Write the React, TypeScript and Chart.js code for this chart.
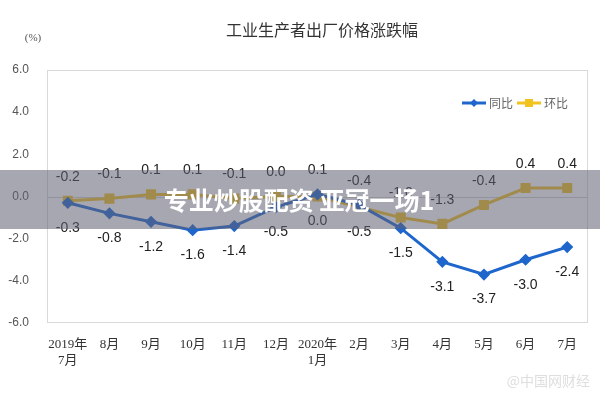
import React, { useEffect, useRef } from "react";
import { Chart, registerables } from "chart.js";

Chart.register(...registerables);

const title = "工业生产者出厂价格涨跌幅";
const unitLabel = "(%)";
const categories: (string | string[])[] = [
  ["2019年", "7月"], "8月", "9月", "10月", "11月", "12月",
  ["2020年", "1月"], "2月", "3月", "4月", "5月", "6月", "7月",
];
const yoyName = "同比";
const momName = "环比";
const yoyValues = [-0.3, -0.8, -1.2, -1.6, -1.4, -0.5, 0.1, -0.4, -1.5, -3.1, -3.7, -3.0, -2.4];
const momValues = [-0.2, -0.1, 0.1, 0.1, -0.1, 0.0, 0.0, -0.5, -1.0, -1.3, -0.4, 0.4, 0.4];
const yTicks = [-6, -4, -2, 0, 2, 4, 6];
const bandText = "专业炒股配资 亚冠一场1";
const sourceText = "@中国网财经";

const BLUE = "#1E66CC";
const GOLD = "#F2C21E";
const CJK = '"Noto Sans CJK SC", "Liberation Sans", sans-serif';
const SERIF = '"Liberation Serif", "Noto Sans CJK SC", serif';

const decorPlugin = {
  id: "decor",
  beforeDatasetsDraw(chart: any) {
    const { ctx, chartArea: a, scales } = chart;
    ctx.save();
    ctx.strokeStyle = "#d9d9d9";
    ctx.lineWidth = 1;
    ctx.strokeRect(a.left + 0.5, a.top + 0.5, a.right - a.left - 1, a.bottom - a.top - 1);
    const y0 = Math.round(scales.y.getPixelForValue(0)) + 0.5;
    ctx.beginPath();
    ctx.moveTo(a.left, y0);
    ctx.lineTo(a.right, y0);
    ctx.strokeStyle = "#d0d0d0";
    ctx.stroke();
    ctx.restore();
  },
  afterDraw(chart: any) {
    const { ctx, scales } = chart;
    ctx.save();
    ctx.fillStyle = "#333";
    ctx.font = `16px ${CJK}`;
    ctx.textAlign = "center";
    ctx.textBaseline = "middle";
    ctx.fillText(title, 322, 30);
    ctx.font = `11px ${SERIF}`;
    ctx.fillStyle = "#555";
    ctx.fillText(unitLabel, 33, 38);

    ctx.font = `14px "Liberation Sans", sans-serif`;
    ctx.fillStyle = "#222";
    for (let i = 0; i < categories.length; i++) {
      const x = scales.x.getPixelForValue(i);
      const hiVal = Math.max(yoyValues[i], momValues[i]);
      const loVal = Math.min(yoyValues[i], momValues[i]);
      ctx.fillText(hiVal.toFixed(1), x, scales.y.getPixelForValue(hiVal) - 24);
      ctx.fillText(loVal.toFixed(1), x, scales.y.getPixelForValue(loVal) + 25);
    }

    const ly = 103;
    const items = [
      { name: yoyName, color: BLUE, x: 462, shape: "diamond" },
      { name: momName, color: GOLD, x: 517, shape: "square" },
    ];
    ctx.font = `12px ${CJK}`;
    ctx.textAlign = "left";
    for (const it of items) {
      ctx.strokeStyle = it.color;
      ctx.lineWidth = 3;
      ctx.beginPath();
      ctx.moveTo(it.x, ly);
      ctx.lineTo(it.x + 24, ly);
      ctx.stroke();
      ctx.fillStyle = it.color;
      ctx.beginPath();
      if (it.shape === "diamond") {
        ctx.moveTo(it.x + 12, ly - 4);
        ctx.lineTo(it.x + 16, ly);
        ctx.lineTo(it.x + 12, ly + 4);
        ctx.lineTo(it.x + 8, ly);
      } else {
        ctx.rect(it.x + 8, ly - 4, 8, 8);
      }
      ctx.fill();
      ctx.fillStyle = "#666";
      ctx.fillText(it.name, it.x + 27, ly);
    }

    ctx.fillStyle = "rgba(95,95,115,0.55)";
    ctx.fillRect(0, 170, 600, 59);
    ctx.fillStyle = "#ffffff";
    ctx.font = `bold 25px ${CJK}`;
    ctx.textAlign = "center";
    ctx.fillText(bandText, 299, 200);

    ctx.fillStyle = "#dedede";
    ctx.font = `14px ${CJK}`;
    ctx.textAlign = "right";
    ctx.fillText(sourceText, 590, 381);
    ctx.restore();
  },
};

export default function App() {
  const ref = useRef<HTMLCanvasElement | null>(null);
  useEffect(() => {
    document.body.style.margin = "0";
    if (!ref.current) return;
    const chart = new Chart(ref.current, {
      type: "line",
      data: {
        labels: categories,
        datasets: [
          {
            label: yoyName,
            data: yoyValues,
            borderColor: BLUE,
            backgroundColor: BLUE,
            borderWidth: 3,
            pointStyle: "rectRot",
            pointRadius: 4,
            tension: 0,
          },
          {
            label: momName,
            data: momValues,
            borderColor: GOLD,
            backgroundColor: GOLD,
            borderWidth: 3,
            pointStyle: "rect",
            pointRadius: 5,
            tension: 0,
          },
        ],
      },
      options: {
        animation: false,
        responsive: false,
        layout: { padding: { top: 70, right: 12, left: 0, bottom: 0 } },
        plugins: { legend: { display: false }, tooltip: { enabled: false }, title: { display: false } },
        scales: {
          x: {
            offset: true,
            grid: { display: false },
            border: { display: false },
            ticks: {
              color: "#333",
              font: { family: SERIF, size: 13 },
              maxRotation: 0,
              autoSkip: false,
              padding: 6,
            },
            afterFit: (s: any) => { s.height = 77; },
          },
          y: {
            min: -6,
            max: 6,
            grid: { display: false },
            border: { display: false },
            afterBuildTicks: (s: any) => { s.ticks = yTicks.map((v) => ({ value: v })); },
            ticks: {
              color: "#555",
              font: { family: '"Liberation Sans", sans-serif', size: 12 },
              padding: 10,
              callback: (v: any) => Number(v).toFixed(1),
            },
            afterFit: (s: any) => { s.width = 47; },
          },
        },
      },
      plugins: [decorPlugin],
    });
    return () => chart.destroy();
  }, []);
  return (
    <div style={{ width: 600, height: 400 }}>
      <canvas ref={ref} width={600} height={400} />
    </div>
  );
}
